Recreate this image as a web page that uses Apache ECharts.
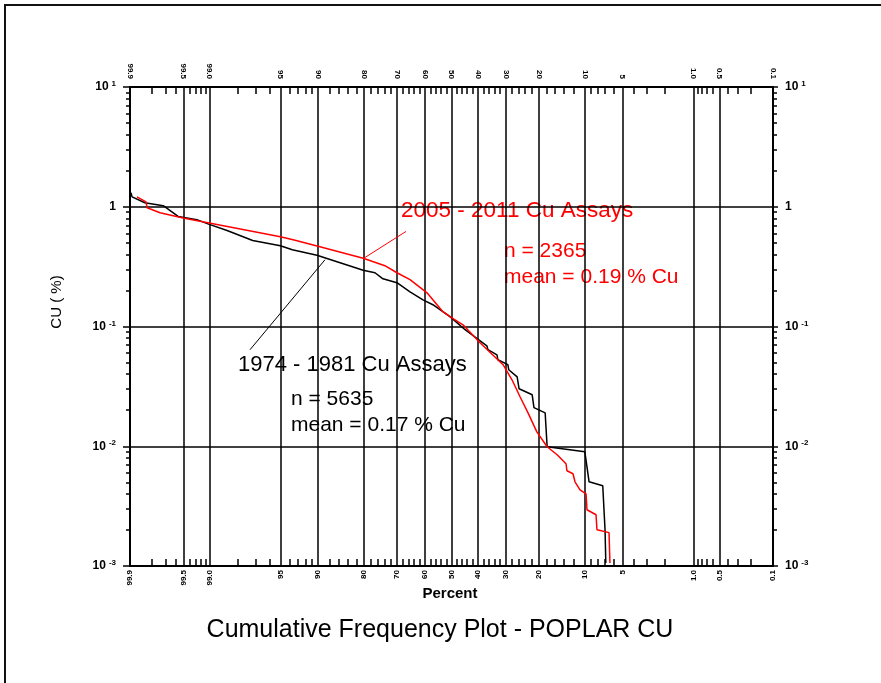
<!DOCTYPE html>
<html>
<head>
<meta charset="utf-8">
<title>Cumulative Frequency Plot - POPLAR CU</title>
<script src="https://cdn.jsdelivr.net/npm/echarts@6/dist/echarts.min.js"></script>
<style>
html, body { margin: 0; padding: 0; background: #fff; }
#main { width: 881px; height: 683px; }
</style>
</head>
<body>
<div id="main"></div>
<script>
// cumulative percent (greater than) and CU %
var oldPct = [99.897, 99.893, 99.84, 99.72, 99.57, 99.28, 99.04, 98.45, 97.2, 95.0, 93.7, 90.2, 80.2, 76.9, 74.5, 70.0, 65.5, 60.8, 57.1, 50.6,
  44.8, 36.7, 36.3, 33.1, 32.8, 29.4, 29.1, 26.4, 25.8, 21.9, 21.4, 18.4, 17.9, 10.0, 9.3, 7.3, 7.0, 6.9];
var oldCu = [1.31, 1.21, 1.08, 1.02, 0.83, 0.78, 0.72, 0.634, 0.523, 0.472, 0.437, 0.394, 0.295, 0.281, 0.25, 0.232, 0.195, 0.167, 0.152, 0.121,
  0.094, 0.069, 0.064, 0.058, 0.0528, 0.048, 0.0435, 0.038, 0.0302, 0.0269, 0.021, 0.019, 0.0099, 0.009, 0.00505, 0.00468, 0.00201, 0.00106];

var newPct = [99.875, 99.834, 99.828, 99.746, 99.506, 99.04, 95.0, 93.6, 89.7, 80.2, 73.9, 70.0, 65.5, 59.3, 53.3, 50.6, 45.6, 39.2, 32.8, 31.0,
  28.05, 25.5, 23.1, 20.6, 17.9, 15.5, 13.55, 13.35, 12.15, 11.76, 10.84, 9.80, 9.64, 8.24, 8.10, 6.50, 6.39];
var newCu = [1.21, 1.10, 0.98, 0.89, 0.805, 0.735, 0.562, 0.53, 0.463, 0.372, 0.322, 0.281, 0.246, 0.191, 0.133, 0.121, 0.1034, 0.0732, 0.0528, 0.048,
  0.0359, 0.0259, 0.019, 0.0132, 0.0099, 0.00849, 0.00714, 0.00624, 0.00589, 0.00505, 0.00433, 0.00401, 0.00295, 0.00268, 0.00201, 0.0019, 0.00106];

// leader lines from the labels to the curves [pct, cu]
var newLeader = [[66.9, 0.622], [80.25, 0.368]];
var oldLeader = [[88.8, 0.361], [97.36, 0.064]];

// probability axis ticks
var majorLabels = ['99.9', '99.5', '99.0', '95', '90', '80', '70', '60', '50', '40', '30', '20', '10', '5', '1.0', '0.5', '0.1'];
var minorPct = [99.8, 99.7, 99.6, 99.4, 99.3, 99.2, 99.1, 98, 97, 96, 94, 93, 92, 91,
  88, 86, 84, 82, 78, 76, 74, 72, 68, 66, 64, 62, 58, 56, 54, 52,
  48, 46, 44, 42, 38, 36, 34, 32, 28, 26, 24, 22, 18, 16, 14, 12,
  9, 8, 7, 6, 4, 3, 2, 0.9, 0.8, 0.7, 0.6, 0.4, 0.3, 0.2];
var minorCu = [0.002, 0.003, 0.004, 0.005, 0.006, 0.007, 0.008, 0.009,
  0.02, 0.03, 0.04, 0.05, 0.06, 0.07, 0.08, 0.09,
  0.2, 0.3, 0.4, 0.5, 0.6, 0.7, 0.8, 0.9,
  2, 3, 4, 5, 6, 7, 8, 9];

// inverse normal (Acklam) -> probability scale
function invNorm(p) {
  var a = [-3.969683028665376e+01, 2.209460984245205e+02, -2.759285104469687e+02, 1.383577518672690e+02, -3.066479806614716e+01, 2.506628277459239e+00];
  var b = [-5.447609879822406e+01, 1.615858368580409e+02, -1.556989798598866e+02, 6.680131188771972e+01, -1.328068155288572e+01];
  var c = [-7.784894002430293e-03, -3.223964580411365e-01, -2.400758277161838e+00, -2.549732539343734e+00, 4.374664141464968e+00, 2.938163982698783e+00];
  var d = [7.784695709041462e-03, 3.224671290700398e-01, 2.445134137142996e+00, 3.754408661907416e+00];
  var pl = 0.02425, q, r;
  if (p < pl) {
    q = Math.sqrt(-2 * Math.log(p));
    return (((((c[0] * q + c[1]) * q + c[2]) * q + c[3]) * q + c[4]) * q + c[5]) / ((((d[0] * q + d[1]) * q + d[2]) * q + d[3]) * q + 1);
  }
  if (p > 1 - pl) {
    q = Math.sqrt(-2 * Math.log(1 - p));
    return -(((((c[0] * q + c[1]) * q + c[2]) * q + c[3]) * q + c[4]) * q + c[5]) / ((((d[0] * q + d[1]) * q + d[2]) * q + d[3]) * q + 1);
  }
  q = p - 0.5; r = q * q;
  return (((((a[0] * r + a[1]) * r + a[2]) * r + a[3]) * r + a[4]) * r + a[5]) * q / (((((b[0] * r + b[1]) * r + b[2]) * r + b[3]) * r + b[4]) * r + 1);
}
function probX(pct) { return -invNorm(pct / 100); }

var xMin = probX(99.9), xMax = probX(0.1);
var majorX = majorLabels.map(function (s) { return probX(parseFloat(s)); });
var minorX = minorPct.map(probX);
var minorY = minorCu.map(function (v) { return Math.log10(v); });

function pctLabel(v) {
  var best = 0;
  for (var i = 1; i < majorX.length; i++) {
    if (Math.abs(majorX[i] - v) < Math.abs(majorX[best] - v)) best = i;
  }
  return majorLabels[best];
}
function cuLabel(v) {
  var e = Math.round(Math.log10(v));
  if (e === 0) return '{b|1}';
  return '{b|10}{s|' + e + '}';
}
function toXY(pct, cu) {
  return pct.map(function (p, i) { return [probX(p), cu[i]]; });
}

var F = "Arial, 'Liberation Sans', sans-serif";
var blk = '#000';
var red = '#ff0000';
var plotH = 479;

var myChart = echarts.init(document.getElementById('main'), null, { renderer: 'canvas' });

var tickFont = { fontSize: 8, fontWeight: 'bold', fontFamily: F, color: blk };
var yRich = {
  b: { fontSize: 12, fontWeight: 'bold', fontFamily: F, color: blk, lineHeight: 14 },
  s: { fontSize: 8, fontWeight: 'bold', fontFamily: F, color: blk, verticalAlign: 'top', padding: [0, 0, 0, 3], lineHeight: 9 }
};

function xAx(pos, opts) {
  var ax = {
    type: 'value', position: pos, min: xMin, max: xMax,
    axisLine: { show: true, onZero: false, lineStyle: { color: blk, width: 2 } },
    axisTick: { show: false },
    axisLabel: { show: false },
    splitLine: { show: false },
    minorTick: { show: false }
  };
  for (var k in opts) ax[k] = opts[k];
  return ax;
}
function yAx(pos, opts) {
  var ax = {
    type: 'log', logBase: 10, position: pos, min: 0.001, max: 10,
    axisLine: { show: true, onZero: false, lineStyle: { color: blk, width: 2 } },
    axisTick: { show: false },
    axisLabel: { show: false },
    splitLine: { show: false },
    minorTick: { show: false }
  };
  for (var k in opts) ax[k] = opts[k];
  return ax;
}
// tick-only axis in log10 units for the 2..9 minor ticks
function yMinor(pos) {
  return {
    type: 'value', position: pos, min: -3, max: 1,
    axisLine: { show: false, onZero: false },
    axisTick: { show: true, inside: false, length: 4, customValues: minorY, lineStyle: { color: blk, width: 1.5 } },
    axisLabel: { show: false },
    splitLine: { show: false },
    minorTick: { show: false }
  };
}

var option = {
  animation: false,
  backgroundColor: '#fff',
  grid: { left: 130, right: 108, top: 87, bottom: 117, containLabel: false },
  xAxis: [
    xAx('bottom', {
      axisTick: { show: true, inside: true, length: plotH, customValues: majorX, lineStyle: { color: blk, width: 1.5 } },
      axisLabel: Object.assign({ show: true, customValues: majorX, rotate: 90, margin: 4, formatter: pctLabel }, tickFont)
    }),
    xAx('bottom', {
      axisTick: { show: true, inside: true, length: 7, customValues: minorX, lineStyle: { color: blk, width: 1.5 } }
    }),
    xAx('top', {
      axisLabel: Object.assign({ show: true, customValues: majorX, rotate: 90, margin: 8, formatter: pctLabel }, tickFont)
    }),
    xAx('top', {
      axisTick: { show: true, inside: true, length: 7, customValues: minorX, lineStyle: { color: blk, width: 1.5 } }
    })
  ],
  yAxis: [
    yAx('left', {
      axisTick: { show: true, inside: false, length: 7, lineStyle: { color: blk, width: 1.5 } },
      axisLabel: { show: true, margin: 14, formatter: cuLabel, rich: yRich },
      splitLine: { show: true, lineStyle: { color: blk, width: 1.5 } }
    }),
    yMinor('left'),
    yAx('right', {
      axisTick: { show: true, inside: false, length: 5, lineStyle: { color: blk, width: 1.5 } },
      axisLabel: { show: true, margin: 12, formatter: cuLabel, rich: yRich }
    }),
    yMinor('right')
  ],
  series: [
    {
      name: '1974 - 1981 Cu Assays', type: 'line', xAxisIndex: 0, yAxisIndex: 0,
      showSymbol: false, symbol: 'none',
      lineStyle: { color: blk, width: 1.5 },
      data: toXY(oldPct, oldCu),
      markLine: {
        silent: true, symbol: ['none', 'none'], label: { show: false },
        lineStyle: { color: blk, width: 1, type: 'solid' },
        data: [[{ coord: [probX(oldLeader[0][0]), oldLeader[0][1]] }, { coord: [probX(oldLeader[1][0]), oldLeader[1][1]] }]]
      }
    },
    {
      name: '2005 - 2011 Cu Assays', type: 'line', xAxisIndex: 0, yAxisIndex: 0,
      showSymbol: false, symbol: 'none',
      lineStyle: { color: red, width: 1.5 },
      data: toXY(newPct, newCu),
      markLine: {
        silent: true, symbol: ['none', 'none'], label: { show: false },
        lineStyle: { color: red, width: 1, type: 'solid' },
        data: [[{ coord: [probX(newLeader[0][0]), newLeader[0][1]] }, { coord: [probX(newLeader[1][0]), newLeader[1][1]] }]]
      }
    }
  ],
  graphic: [
    { type: 'rect', z: 100, shape: { x: 5, y: 5, width: 1000, height: 1000 }, style: { fill: 'none', stroke: '#111', lineWidth: 2 } },
    { type: 'text', x: 401, y: 210.5, style: { text: '2005 - 2011 Cu Assays', fill: red, fontSize: 22.5, fontFamily: F, align: 'left', verticalAlign: 'middle' } },
    { type: 'text', x: 504, y: 251.6, style: { text: 'n = 2365', fill: red, fontSize: 21, fontFamily: F, align: 'left', verticalAlign: 'middle' } },
    { type: 'text', x: 504, y: 277, style: { text: 'mean = 0.19 % Cu', fill: red, fontSize: 21, fontFamily: F, align: 'left', verticalAlign: 'middle' } },
    { type: 'text', x: 238, y: 364.7, style: { text: '1974 - 1981 Cu Assays', fill: blk, fontSize: 22, fontFamily: F, align: 'left', verticalAlign: 'middle' } },
    { type: 'text', x: 291, y: 399.3, style: { text: 'n = 5635', fill: blk, fontSize: 21, fontFamily: F, align: 'left', verticalAlign: 'middle' } },
    { type: 'text', x: 291, y: 425, style: { text: 'mean = 0.17 % Cu', fill: blk, fontSize: 21, fontFamily: F, align: 'left', verticalAlign: 'middle' } },
    { type: 'text', x: 450, y: 594, style: { text: 'Percent', fill: blk, fontSize: 15, fontWeight: 'bold', fontFamily: F, align: 'center', verticalAlign: 'middle' } },
    { type: 'text', x: 57, y: 302, rotation: Math.PI / 2, style: { text: 'CU ( %)', fill: blk, fontSize: 15, fontFamily: F, align: 'center', verticalAlign: 'middle' } },
    { type: 'text', x: 440, y: 630, style: { text: 'Cumulative Frequency Plot - POPLAR CU', fill: blk, fontSize: 25, fontFamily: F, align: 'center', verticalAlign: 'middle' } }
  ]
};

myChart.setOption(option);
window.addEventListener('resize', function () {
  myChart.resize();
});
</script>
</body>
</html>
